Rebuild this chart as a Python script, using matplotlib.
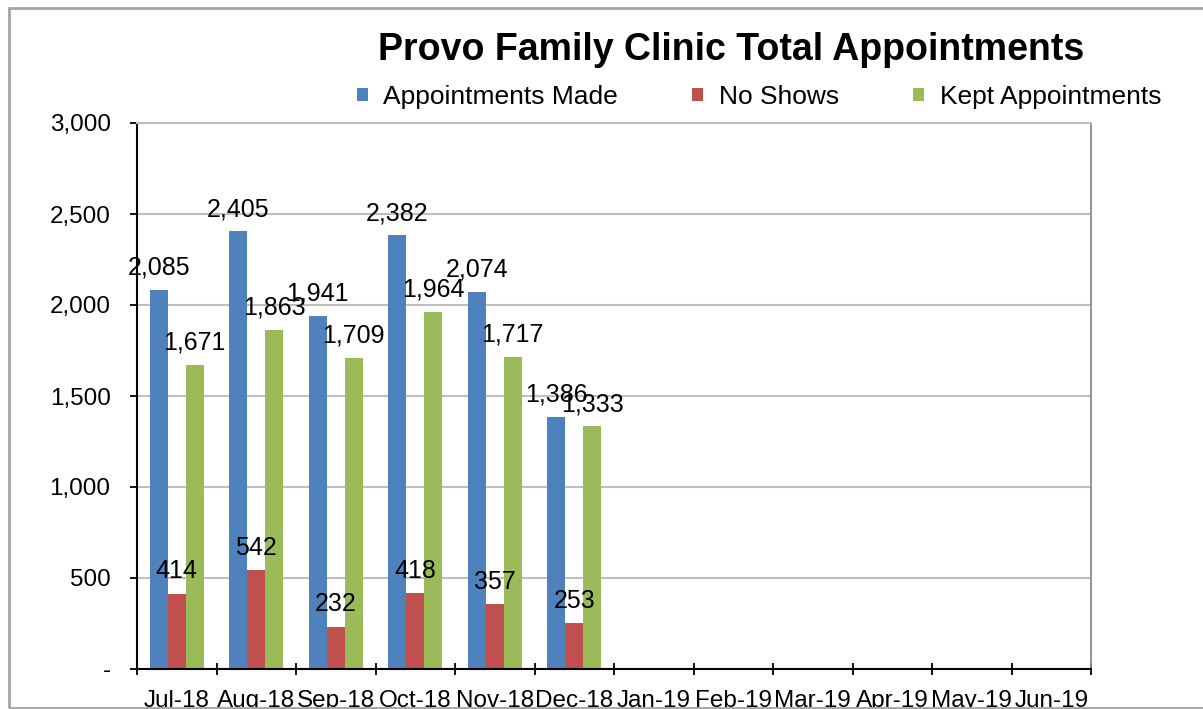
import matplotlib
matplotlib.use("Agg")
import matplotlib.pyplot as plt
import numpy as np
from matplotlib.ticker import FuncFormatter, FixedLocator
from matplotlib.patches import Rectangle

plt.rcParams['font.family'] = ['Liberation Sans', 'DejaVu Sans']

months = ["Jul-18", "Aug-18", "Sep-18", "Oct-18", "Nov-18", "Dec-18",
          "Jan-19", "Feb-19", "Mar-19", "Apr-19", "May-19", "Jun-19"]
made = [2085, 2405, 1941, 2382, 2074, 1386]
no_shows = [414, 542, 232, 418, 357, 253]
kept = [1671, 1863, 1709, 1964, 1717, 1333]
series_names = ["Appointments Made", "No Shows", "Kept Appointments"]
colors = ["#4F81BD", "#C0504D", "#9BBB59"]

W, H = 1203, 709
fig = plt.figure(figsize=(W / 100, H / 100), dpi=100)
ax = fig.add_axes([137 / W, 1 - 669 / H, (1091 - 137) / W, (669 - 123) / H])

# figure border (right edge lies outside the picture)
fig.patches.append(Rectangle((9 / W, 1 - 708 / H), (W + 60) / W, (708 - 8) / H,
                             transform=fig.transFigure, fill=False,
                             edgecolor="#A6A6A6", linewidth=2.0, zorder=0))

n = len(months)
bw = 0.226
x = np.arange(len(made))
handles = []
for i, (vals, c, name) in enumerate(zip([made, no_shows, kept], colors, series_names)):
    pos = x + (i - 1) * bw
    b = ax.bar(pos, vals, width=bw, color=c, label=name, zorder=2)
    handles.append(b)
    for p, v in zip(pos, vals):
        ax.annotate(f"{v:,}", (p, v), xytext=(0, 11), textcoords="offset points",
                    ha="center", va="baseline", fontsize=18, zorder=4)

ax.set_xlim(-0.5, n - 0.5)
ax.set_ylim(0, 3000)
ax.yaxis.set_major_locator(FixedLocator(np.arange(0, 3001, 500)))
ax.yaxis.set_major_formatter(FuncFormatter(lambda v, p: "-" if v == 0 else f"{int(v):,}"))
ax.grid(axis="y", color="#BFBFBF", linewidth=1.5, zorder=0)
ax.set_axisbelow(True)

ax.xaxis.set_major_locator(FixedLocator(np.arange(-0.5, n, 1.0)))
ax.xaxis.set_major_formatter(FuncFormatter(lambda v, p: ""))
ax.xaxis.set_minor_locator(FixedLocator(np.arange(n)))
ax.set_xticklabels(months, minor=True)
ax.tick_params(axis="x", which="major", direction="inout", length=8, width=1.3, color="black")
ax.tick_params(axis="x", which="minor", length=0, pad=15, labelsize=17.5)
ax.tick_params(axis="y", direction="out", length=5, width=1.3, labelsize=17.5, pad=14)

for s in ["left", "bottom"]:
    ax.spines[s].set_color("black")
    ax.spines[s].set_linewidth(1.5)
ax.spines["right"].set_color("#8C8C8C")
ax.spines["right"].set_linewidth(1.3)
ax.spines["top"].set_color("#BFBFBF")
ax.spines["top"].set_linewidth(1.5)

fig.text(731 / W, 1 - 50 / H, "Provo Family Clinic Total Appointments",
         ha="center", va="center", fontsize=27, fontweight="bold")

fig.legend(handles=handles, labels=series_names, loc="center",
           bbox_to_anchor=(759 / W, 1 - 97 / H), ncol=3, frameon=False,
           fontsize=19, handlelength=0.42, handleheight=0.42,
           handletextpad=0.6, columnspacing=2.8, borderpad=0)

fig.savefig("out.png", dpi=100)
